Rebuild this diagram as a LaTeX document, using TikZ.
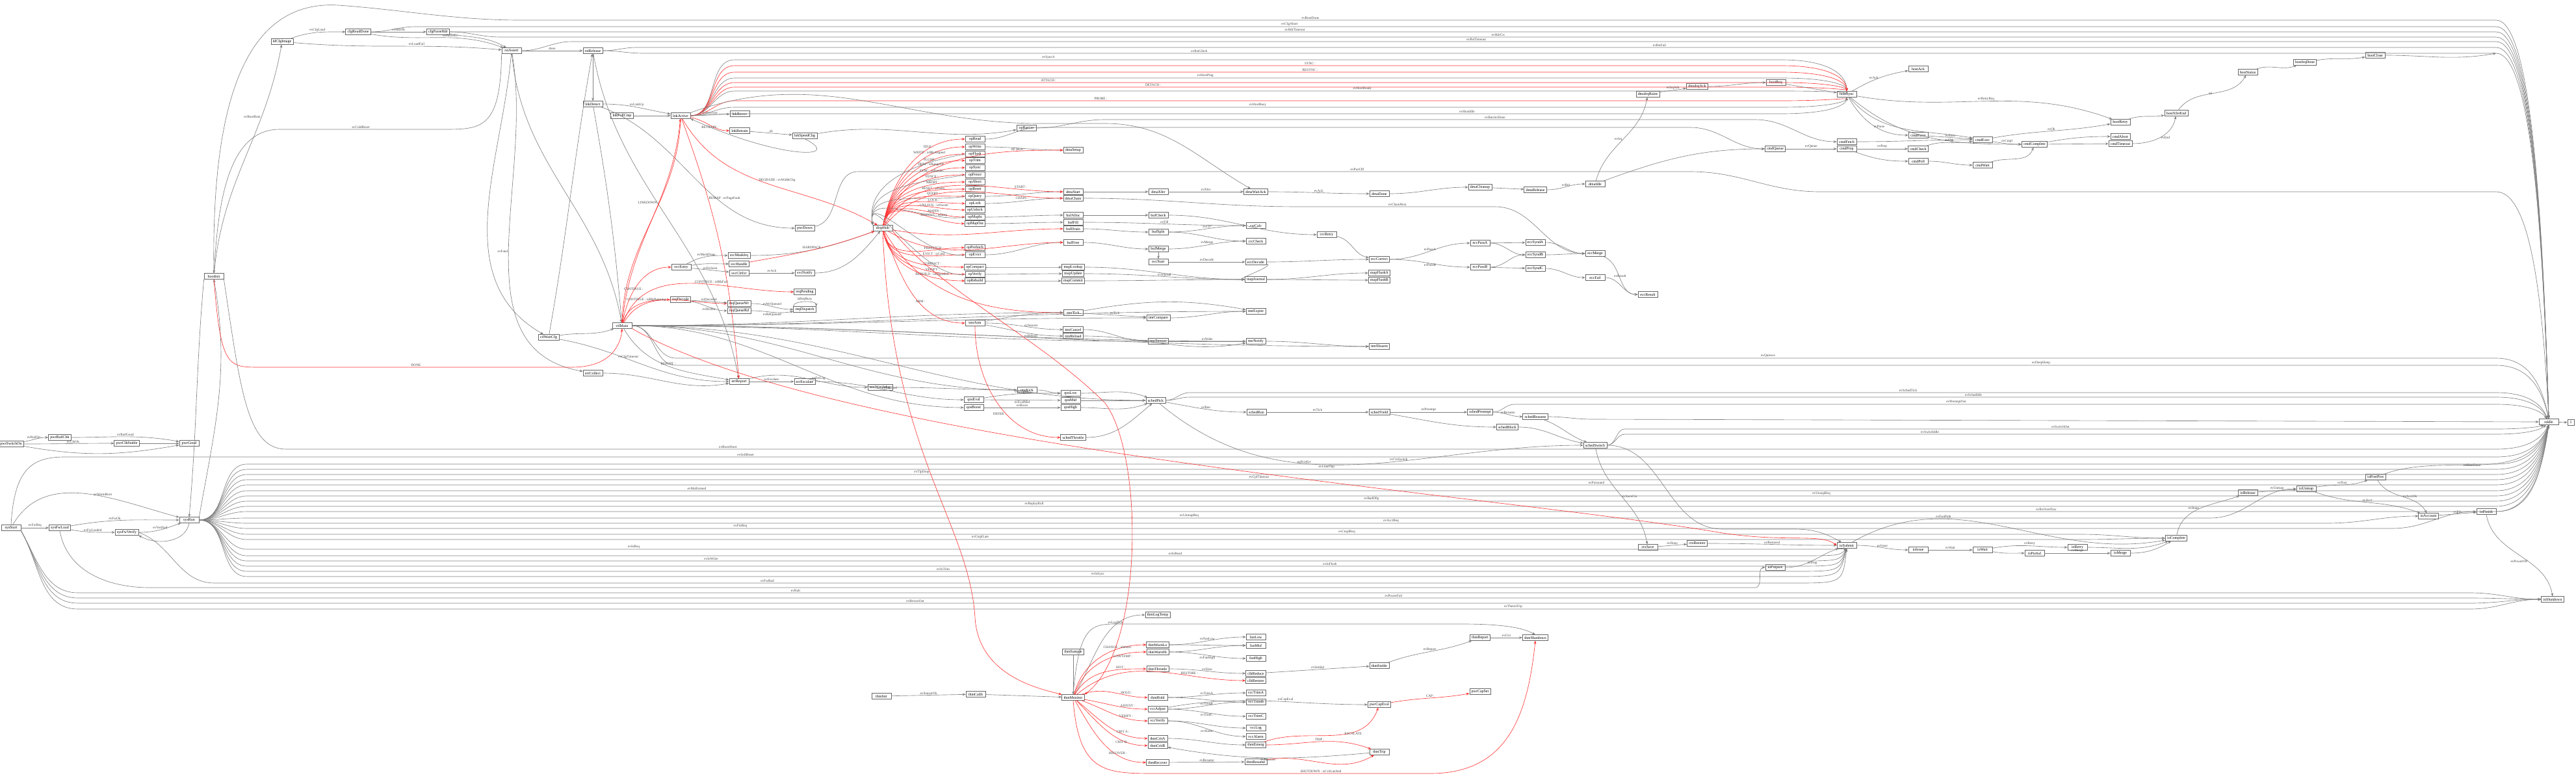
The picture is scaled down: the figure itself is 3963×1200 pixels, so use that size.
\documentclass[tikz,border=0pt]{standalone}
\usepackage{fontspec}
\setmainfont{Liberation Serif}
\usetikzlibrary{arrows.meta}
\usetikzlibrary{positioning}

\tikzset{
  st/.style={draw=black!60, line width=0.2pt, font=\fontsize{1.7}{2}\selectfont,
    inner xsep=0.8pt, inner ysep=0.3pt, minimum height=0.085cm, minimum width=0.3cm},
  tr/.style={-{Stealth[length=1.4pt,width=1.1pt]}, line width=0.18pt, draw=black!50},
  rt/.style={tr, draw=red!80},
  lbl/.style={font=\fontsize{1.5}{1.8}\selectfont, inner sep=0.3pt, text=black!75},
}

\begin{document}
\begin{tikzpicture}[x=0.01cm, y=-0.01cm]
\useasboundingbox (0,0) rectangle (3963,1200);

% end states
\node[st] (tt) at (3921,649) {stIdle};
\node[st, minimum width=0.1cm] (te) at (3955,650) {1};
\draw[tr] (tt) -- (te);

% power-up chain
\node[st] (a0) at (17,683) {pwrSwitchOn};
\node[st] (a1) at (92,673) {pwrRailChk};
\node[st] (a2) at (195,682) {pwrClkStable};
\node[st] (a3) at (291,682) {pwrGood};
\node[st] (b0) at (17,812) {sysStart};
\node[st] (b1) at (92,812) {sysFwLoad};
\node[st] (b2) at (195,819) {sysFwVerify};
\node[st] (h4) at (291,800) {sysRun};

% boot / link
\node[st] (n22) at (329,425) {bootInit};
\node[st] (t3) at (434,64) {ldCfgImage};
\node[st] (t1) at (551,49) {cfgReadDone};
\node[st] (t2) at (674,49) {cfgParseHdr};
\node[st] (h1) at (787,78) {rstAssert};
\node[st] (t4) at (912,78) {rstRelease};
\node[st] (t5) at (912,160) {lnkDetect};
\node[st] (n6) at (957,178) {lnkPollCmp};
\node[st] (h2) at (1047,178) {lnkActive};
\node[st] (n7) at (1138,175) {lnkRecov};
\node[st] (n8) at (1138,201) {lnkRetrain};
\node[st] (n9) at (1238,209) {lnkSpeedChg};
\node[st] (n10) at (1238,351) {pwrDown};
\node[st] (n11) at (1137,393) {svcMaskIrq};
\node[st] (n12) at (1137,406) {svcHandle};
\node[st] (n13) at (1048,411) {svcEntry};
\node[st] (n14) at (1137,420) {svcClrErr};
\node[st] (n15) at (1238,420) {svcNotify};
\node[st] (n16) at (1047,461) {reqDecode};
\node[st] (n17) at (1238,449) {reqPending};
\node[st] (n18) at (1137,467) {reqQueueWr};
\node[st] (n19) at (1137,478) {reqQueueRd};
\node[st] (n20) at (1238,476) {reqDispatch};
\node[st] (h3) at (957,501) {ctlMain};
\node[st] (n21) at (844,519) {ctlWaitCfg};
\node[st] (n23) at (912,574) {errCollect};
\node[st] (n24) at (1137,587) {errReport};
\node[st] (n25) at (1238,587) {errEscalate};

% dispatch fan
\node[st] (h5) at (1358,351) {dispHub};
\foreach \y/\lb [count=\i] in {214/opRead,226/opWrite,237/opFlush,247/opTrim,258/opSync,
  269/opFence,280/opAbort,291/opReset,302/opQuery,313/opLock,323/opUnlock,334/opMapIn,
  344/opMapOut,381/opPrefetch,392/opEvict,411/opCompact,422/opVerify,432/opRebuild}
  \node[st] (f\i) at (1500,\y) {\lb};

\node[st] (g0) at (1579,197) {opBarrier};
\node[st] (g1) at (1651,231) {dmaSetup};
\node[st] (g2) at (1651,295) {dmaStart};
\node[st] (g3) at (1651,305) {dmaChain};
\node[st] (g4) at (1782,295) {dmaXfer};
\node[st] (g5) at (1932,295) {dmaWaitAck};
\node[st] (g6) at (2122,298) {dmaDone};
\node[st] (g7) at (2277,288) {dmaCleanup};
\node[st] (g8) at (2362,292) {dmaRelease};
\node[st] (g9) at (2454,283) {dmaIdle};
\node[st] (g10) at (2535,145) {dmaIrqRaise};
\node[st] (g11) at (2611,133) {dmaIrqAck};
\node[st] (g12) at (1651,331) {bufAlloc};
\node[st] (g13) at (1651,342) {bufFill};
\node[st] (g14) at (1651,352) {bufDrain};
\node[st] (g15) at (1782,331) {bufCheck};
\node[st] (g16) at (1782,357) {bufSplit};
\node[st] (g17) at (1782,383) {bufMerge};
\node[st] (g18) at (1651,373) {bufFree};
\node[st] (g19) at (1932,347) {crcCalc};
\node[st] (g20) at (1932,371) {crcCheck};
\node[st] (g21) at (2041,361) {crcRetry};
\node[st] (g22) at (1782,403) {eccStart};
\node[st] (g23) at (1932,403) {eccDecode};
\node[st] (g24) at (2122,399) {eccCorrect};
\node[st] (g25) at (2277,374) {eccPassA};
\node[st] (g26) at (2277,411) {eccPassB};
\node[st] (g27) at (2362,373) {eccSyndA};
\node[st] (g28) at (2362,392) {eccSyndB};
\node[st] (g29) at (2362,413) {eccSyndC};
\node[st] (g30) at (2454,390) {eccMerge};
\node[st] (g31) at (2454,427) {eccFail};
\node[st] (g32) at (2535,453) {eccResult};
\node[st] (g33) at (1651,411) {mapLookup};
\node[st] (g34) at (1651,421) {mapUpdate};
\node[st] (g35) at (1651,432) {mapCommit};
\node[st] (g36) at (1932,430) {mapJournal};
\node[st] (g37) at (2122,420) {mapFlushA};
\node[st] (g38) at (2122,431) {mapFlushB};
\node[st] (k0) at (1500,497) {tmrArm};
\node[st] (k1) at (1651,481) {tmrTick};
\node[st] (k2) at (1782,489) {tmrCompare};
\node[st] (k3) at (1932,479) {tmrExpire};
\node[st] (k4) at (1651,507) {tmrCancel};
\node[st] (k5) at (1651,517) {tmrReload};
\node[st] (k6) at (1782,525) {tmrSnooze};
\node[st] (k7) at (1932,525) {tmrNotify};
\node[st] (k8) at (2122,533) {tmrDisarm};
\node[st] (k9) at (1354,596) {tmrWatchdog};
\node[st] (k10) at (1580,600) {tmrKick};

% host sync
\node[st] (h6) at (2841,145) {hostSync};
\node[st] (m1) at (2951,106) {hostAck};
\node[st] (m2) at (2732,127) {hostReq};
\node[st] (m3) at (3262,188) {hostRetry};
\node[st] (m4) at (3348,174) {hostXferEnd};
\node[st] (m5) at (3458,111) {hostStatus};
\node[st] (m6) at (3546,96) {hostIrqDone};
\node[st] (m7) at (3654,85) {hostClose};
\node[st] (m8) at (2951,208) {cmdParse};
\node[st] (m9) at (3050,215) {cmdExec};
\node[st] (m10) at (3130,222) {cmdComplete};
\node[st] (m11) at (3262,210) {cmdAbort};
\node[st] (m12) at (3262,221) {cmdTimeout};
\node[st] (m13) at (2841,218) {cmdFetch};
\node[st] (m14) at (2841,229) {cmdPrep};
\node[st] (m15) at (2731,229) {cmdQueue};
\node[st] (m16) at (2951,229) {cmdCheck};
\node[st] (m17) at (2951,248) {cmdPoll};
\node[st] (m18) at (3050,254) {cmdWait};

% scheduler
\node[st] (p1) at (1498,615) {qosEval};
\node[st] (p2) at (1647,605) {qosLow};
\node[st] (p3) at (1647,616) {qosMid};
\node[st] (p4) at (1647,627) {qosHigh};
\node[st] (p5) at (1498,627) {qosBoost};
\node[st] (h7) at (1778,616) {schedPick};
\node[st] (p6) at (1933,634) {schedRun};
\node[st] (p7) at (2122,634) {schedYield};
\node[st] (p8) at (2277,634) {schedPreempt};
\node[st] (p9) at (2362,641) {schedResume};
\node[st] (p10) at (2319,657) {schedBlock};
\node[st] (p11) at (2454,685) {schedSwitch};
\node[st] (p12) at (1651,673) {schedThrottle};
\node[st] (p13) at (2535,842) {ctxSave};
\node[st] (p14) at (2611,836) {ctxRestore};

% io path
\node[st] (h9) at (2841,839) {ioSubmit};
\node[st] (q1) at (2731,873) {ioPrepare};
\node[st] (q2) at (2951,846) {ioIssue};
\node[st] (q3) at (3050,846) {ioWait};
\node[st] (q4) at (3130,851) {ioPartial};
\node[st] (q5) at (3196,842) {ioRetry};
\node[st] (q6) at (3262,851) {ioMerge};
\node[st] (q7) at (3348,828) {ioComplete};
\node[st] (q8) at (3655,734) {ioPostProc};
\node[st] (q9) at (3548,752) {ioUnmap};
\node[st] (q10) at (3458,758) {ioRelease};
\node[st] (q11) at (3736,794) {ioAccount};
\node[st] (q12) at (3825,787) {ioFinish};
\node[st] (nz) at (3927,922) {ioShutdown};

% thermal
\node[st] (h8) at (1651,1073) {thmMonitor};
\node[st] (r0) at (1356,1071) {thmInit};
\node[st] (r1) at (1501,1068) {thmCalib};
\node[st] (r2) at (1781,946) {thmLogTemp};
\node[st] (r3) at (1651,1003) {thmSample};
\node[st] (r4) at (1781,992) {thmWarnLo};
\node[st] (r5) at (1781,1003) {thmWarnHi};
\node[st] (r6) at (1932,980) {fanLow};
\node[st] (r7) at (1932,993) {fanMid};
\node[st] (r8) at (1932,1013) {fanHigh};
\node[st] (r9) at (1781,1029) {thmThrottle};
\node[st] (r10) at (1932,1036) {clkReduce};
\node[st] (r11) at (1932,1047) {clkRestore};
\node[st] (r12) at (2122,1024) {thmStable};
\node[st] (r13) at (2277,981) {thmReport};
\node[st] (r14) at (2362,981) {thmShutdown};
\node[st] (r15) at (1781,1073) {thmHold};
\node[st] (r16) at (1932,1066) {vccTrimA};
\node[st] (r17) at (1781,1091) {vccAdjust};
\node[st] (r18) at (1932,1080) {vccTrimB};
\node[st] (r19) at (1932,1102) {vccTrimC};
\node[st] (r20) at (1781,1109) {vccVerify};
\node[st] (r21) at (1932,1120) {vccLog};
\node[st] (r22) at (1932,1133) {vccAlarm};
\node[st] (r23) at (2122,1084) {pwrCapEval};
\node[st] (r24) at (2277,1064) {pwrCapSet};
\node[st] (r25) at (1781,1136) {thmCritA};
\node[st] (r26) at (1781,1147) {thmCritB};
\node[st] (r27) at (1932,1146) {thmEmerg};
\node[st] (r28) at (2122,1157) {thmTrip};
\node[st] (r29) at (1781,1173) {thmRecover};
\node[st] (r30) at (1932,1172) {thmResume};

%% power-up edges
\draw[tr] (a0) to[out=10,in=180] node[lbl,above,pos=0.4]{evRailOn} (a1);
\draw[tr] (a0) to[out=0,in=180] node[lbl,above,pos=0.55]{evClkOk} (a2);
\draw[tr] (a1) to[out=0,in=170] node[lbl,above,pos=0.5]{evRailGood} (a3);
\draw[tr] (a0) to[out=-10,in=190] (a3);
\draw[tr] (a2) -- (a3);
\draw[tr] (b0) -- node[lbl,above]{evFwReq} (b1);
\draw[tr] (b1) to[out=-10,in=180] node[lbl,above]{evFwLoaded} (b2);
\draw[tr] (b1) to[out=10,in=180] node[lbl,above,pos=0.4]{evFwOk} (h4);
\draw[tr] (b0) to[out=60,in=165] node[lbl,above,pos=0.6]{evWarmBoot} (h4);
\draw[tr] (b2) to[out=0,in=200] node[lbl,above]{evVerified} (h4);
\draw[tr] (h4.south) to[out=-100,in=-30] (b2.south east);
\draw[tr] (n22.south west) to[out=-95,in=85] (h4.north);
\draw[tr] (h4.north east) to[out=80,in=-80] (n22.south);

%% boot edges
\draw[tr] (t3) to[out=20,in=180] node[lbl,above]{evCfgLoad} (t1);
\draw[tr] (t1) -- node[lbl,above]{evHdrOk} (t2);
\draw[tr] (t1) to[out=-10,in=160] node[lbl,above,pos=0.6]{evParseErr} (h1);
\draw[tr] (t2) to[out=-10,in=150] (h1);
\draw[tr] (t3) to[out=-5,in=175] node[lbl,above,pos=0.6]{evLoadFail} (h1);
\draw[tr] (h1) -- node[lbl,above]{done} (t4);
\draw[tr] (n22) to[out=85,in=-100] node[lbl,left,pos=0.7]{evBootRom} (t3);
\draw[tr] (h1.south west) .. controls (770,200) and (740,199) .. (680,199) -- node[lbl,above]{evColdReset} (430,199) .. controls (345,199) and (335,330) .. (n22.north);
\draw[tr] (n22.north) .. controls (325,150) and (380,0) .. (520,8) .. controls (620,15) and (700,31) .. (800,31) -- node[lbl,above,pos=0.4]{evBootDone} (3840,31) .. controls (3895,31) and (3912,340) .. (tt.north);
\draw[tr] (h1) to[out=-85,in=100] (h3);
\draw[tr] (h1) to[out=-80,in=170] node[lbl,left,pos=0.5]{evFatal} (n23);
\draw[tr] (h1) to[out=-95,in=150] (n21);
\draw[tr] (n21) to[out=80,in=-100] (t4);
\draw[tr] (t4) to[out=-80,in=100] (n24);
\draw[tr] (t4) -- (t5);
\draw[tr] (t5) to[out=0,in=170] node[lbl,above]{evLinkUp} (h2);
\draw[tr] (n6) -- (h2);
\draw[tr] (t5) to[out=-80,in=95] (h3);
\draw[tr] (t5) to[out=-20,in=180] (n10);

%% link edges
\draw[tr] (h2) -- node[lbl,above]{evRecover} (n7);
\draw[rt] (h2) to[out=-10,in=180] node[lbl,below]{RETRAIN :} (n8);
\draw[tr] (n8) -- node[lbl,above]{ok} (n9);
\draw[tr] (n9) to[out=10,in=190] (g0);
\draw[tr] (n9.south) .. controls (1300,245) and (1200,245) .. (h2.south east);
\draw[rt] (h2) to[out=-60,in=150] node[lbl,right,pos=0.45]{DEGRADE : evWidthChg} (h5);
\draw[rt] (h2) to[out=-70,in=95] node[lbl,right,pos=0.3]{REMAP : evPageFault} (n24);
\draw[rt] (h3) to[out=85,in=-95] (h2);
\draw[rt] (h2.south) to[out=-92,in=88] node[lbl,left,pos=0.4]{LINKDOWN :} (h3.north);
\foreach \y/\c/\lb/\ps in {92/tr/evSyncA/0.3, 101/rt/SYNC :/0.55, 111/rt/RESYNC :/0.55,
  120/tr/evHostPing/0.45, 127/rt/ATTACH :/0.3, 134/rt/DETACH :/0.4, 140/tr/evHostReady/0.6,
  155/rt/PROBE :/0.35, 165/tr/evHostBusy/0.5, 175/tr/evHostIdle/0.7}
  \draw[\c] (h2.east) to[out=0,in=180] (1130,\y) -- node[lbl,above,pos=\ps]{\lb} (2740,\y) .. controls (2820,\y) and (2841,{(\y+145)/2}) .. (h6);

%% control edges
\draw[rt] (h3) to[out=80,in=180] node[lbl,above,pos=0.4]{CONTINUE :} (n13);
\draw[rt] (h3) to[out=70,in=180] node[lbl,above,pos=0.6]{CONTINUE : isBlkFail} (n17);
\draw[rt] (h3) to[out=60,in=180] (n18);
\draw[rt] (h3) to[out=75,in=180] node[lbl,above,pos=0.6]{CONTINUE : isBlkRunning} (n16);
\draw[tr] (n13) to[out=30,in=180] node[lbl,above]{evMaskDone} (n11);
\draw[tr] (n13) to[out=10,in=180] (n12);
\draw[tr] (n13) -- node[lbl,above]{evErrSeen} (n14);
\draw[tr] (n14) -- node[lbl,above]{evAck} (n15);
\draw[tr] (n11) to[out=0,in=200] (h5);
\draw[rt] (n12) to[out=10,in=200] node[lbl,above]{HARDPACK :} (h5);
\draw[tr] (n15) to[out=0,in=230] (h5);
\draw[tr] (n16) -- node[lbl,above]{evDecoded} (n18);
\draw[tr] (n16) to[out=-10,in=180] node[lbl,below]{evDecErr} (n19);
\draw[tr] (n18) to[out=0,in=180] node[lbl,above]{evWrQueued} (n20);
\draw[tr] (n19) to[out=0,in=190] node[lbl,below]{evRdQueued} (n20);
\draw[tr] (n20.north west) .. controls (1220,462) and (1256,462) .. node[lbl,above]{isReqBusy} (n20.north east);
\draw[tr] (n21) to[out=10,in=200] (h3);
\draw[tr] (n21) to[out=-10,in=180] node[lbl,above,pos=0.4]{evCfgTimeout} (n24);
\draw[tr] (h3) to[out=-60,in=170] node[lbl,above]{REPORT :} (n24);
\draw[rt] (n22.south) .. controls (340,565) and (350,565) .. (400,565) -- node[lbl,above]{DONE} (880,565) .. controls (940,565) and (955,530) .. (h3.south);
\draw[tr] (n23) to[out=0,in=190] (n24);
\draw[tr] (n24) -- node[lbl,above]{evEscalate} (n25);
\draw[tr] (n24) to[out=15,in=180] node[lbl,above,pos=0.6]{evErrLog} (k9);
\draw[tr] (n25) to[out=0,in=180] node[lbl,above]{evQosEval} (p1);
\foreach \d in {k1,k2,k3,k6,k7,k8,k10,p5,h7}
  \draw[tr] (h3.east) to[out=0,in=180] (\d.west);
\foreach \y/\lb/\ps in {551/evQuiesce/0.6, 562/evDeepSleep/0.75}
  \draw[tr] (h3.east) to[out=0,in=180] (1040,\y) -- node[lbl,above,pos=\ps]{\lb} (3840,\y) .. controls (3895,\y) and (3912,{(\y+649)/2}) .. (tt.north);

%% dispatch edges
\foreach \i/\lb in {1/IDLE :,2/WRITE : isBlkAligned,3/FLUSH :,4/TRIM : isRangeOk,5/SYNC : isBarrier,
  6/FENCE :,7/ABORT :,8/RESET : isHard,9/QUERY :,10/LOCK :,11/UNLOCK : isOwner,12/MAPIN :,13/MAPOUT : isDirty}
  \draw[rt] (h5) to[out=80,in=180] node[lbl,above,pos=0.7]{\lb} (f\i.west);
\foreach \i/\lb in {14/PREFETCH :,15/EVICT : isCold,16/COMPACT :,17/VERIFY :,18/REBUILD : isDegraded}
  \draw[rt] (h5) to[out=-80,in=180] node[lbl,above,pos=0.7]{\lb} (f\i.west);
\foreach \i in {3,6,9,12,15,17}
  \draw[tr] (f\i.west) to[out=190,in=100] (h5.north west);
\draw[tr] (f2) to[out=0,in=180] (g1);
\draw[tr] (f9) to[out=0,in=180] (g2);
\draw[tr] (f10) to[out=0,in=180] (g3);
\draw[tr] (f12) to[out=0,in=180] (g12);
\draw[tr] (f13) to[out=0,in=180] (g13);
\draw[tr] (f15) to[out=0,in=180] (g18);
\draw[tr] (f16) to[out=0,in=180] (g33);
\draw[tr] (f17) to[out=0,in=180] (g34);
\draw[tr] (f18) to[out=0,in=180] (g35);
\draw[rt] (h5) to[out=70,in=180] node[lbl,above,pos=0.8]{AF BLK :} (g1);
\draw[rt] (h5) to[out=60,in=180] node[lbl,above,pos=0.8]{START :} (g2);
\draw[rt] (h5) to[out=50,in=180] node[lbl,below,pos=0.8]{CHAIN :} (g3);
\draw[rt] (h5) to[out=-10,in=180] (g14);
\draw[rt] (h5) to[out=-30,in=180] (g18);
\draw[rt] (h5) to[out=-70,in=180] node[lbl,above,pos=0.6]{ARM :} (k0);
\draw[rt] (h5) to[out=-60,in=180] (k1);
\draw[tr] (n10) to[out=10,in=180] (1320,264) -- node[lbl,above,pos=0.6]{evPwrOff} (2600,264) to[out=0,in=180] (2800,295) -- (3840,295) .. controls (3895,295) and (3912,472) .. (tt.north);

%% dma / buffer edges
\draw[tr] (g2) -- (g4);
\draw[tr] (g4) -- node[lbl,above]{evXfer} (g5);
\draw[tr] (g5) to[out=0,in=180] node[lbl,above]{evAck} (g6);
\draw[tr] (g6) to[out=0,in=180] (g7);
\draw[tr] (g7) -- (g8);
\draw[tr] (g8) to[out=0,in=180] node[lbl,above]{evRel} (g9);
\draw[tr] (g9) to[out=75,in=-100] node[lbl,left,pos=0.5]{evIrq} (g10);
\draw[tr] (g10) to[out=10,in=190] node[lbl,above]{evIrqAck} (g11);
\draw[tr] (h2.north east) to[out=20,in=180] (1600,190) -- (1700,190) to[out=0,in=150] (g5);
\draw[tr] (g3) to[out=0,in=180] (2000,318) -- node[lbl,above]{evChainNext} (2300,318) to[out=0,in=180] (g30);
\draw[tr] (g12) -- (g15);
\draw[tr] (g15) to[out=0,in=180] (g21);
\draw[tr] (g13) to[out=0,in=180] node[lbl,above]{evFill} (g19);
\draw[tr] (g14) to[out=0,in=180] (g16);
\draw[tr] (g16) to[out=0,in=180] node[lbl,above]{evCrc} (g19);
\draw[tr] (g16) to[out=0,in=180] (g20);
\draw[tr] (g18) to[out=0,in=180] (g17);
\draw[tr] (g17) to[out=0,in=180] node[lbl,above]{evMerge} (g20);
\draw[tr] (g17) -- (g22);
\draw[tr] (g22) -- node[lbl,above]{evDecode} (g23);
\draw[tr] (g23) to[out=0,in=180] (g24);
\draw[tr] (g21) to[out=-10,in=170] (g24);
\draw[tr] (g24) to[out=0,in=180] node[lbl,above]{evPassA} (g25);
\draw[tr] (g24) to[out=0,in=180] node[lbl,below]{evPassB} (g26);
\draw[tr] (g25) -- (g27);
\draw[tr] (g25) to[out=0,in=180] (g28);
\draw[tr] (g26) to[out=0,in=180] (g28);
\draw[tr] (g26) -- (g29);
\draw[tr] (g27) to[out=0,in=180] (g30);
\draw[tr] (g28) to[out=0,in=180] (g30);
\draw[tr] (g29) to[out=0,in=180] (g31);
\draw[tr] (g30) to[out=-20,in=180] node[lbl,above]{evResult} (g32);
\draw[tr] (g31) to[out=0,in=180] (g32);
\draw[tr] (g33) to[out=0,in=180] (g36);
\draw[tr] (g34) to[out=0,in=180] node[lbl,above]{evJournal} (g36);
\draw[tr] (g35) to[out=0,in=180] (g36);
\draw[tr] (g36) to[out=0,in=180] (g37);
\draw[tr] (g36) to[out=0,in=180] (g38);
\draw[tr] (g23) to[out=-10,in=180] (g36);
\draw[tr] (g9) to[out=20,in=180] (m15);
\draw[tr] (g11) to[out=0,in=180] (m2);
\draw[tr] (g0) to[out=0,in=180] (1700,184) -- node[lbl,above,pos=0.6]{evBarrierDone} (2700,184) to[out=0,in=180] (m13.west);
\draw[tr] (f1) to[out=0,in=180] (1600,196) -- (2600,196) to[out=0,in=180] (m15.west);

%% timer edges
\draw[tr] (k0) to[out=10,in=180] (k1);
\draw[tr] (k0) to[out=0,in=180] node[lbl,above,pos=0.6]{evSnooze} (k4);
\draw[tr] (k0) to[out=-10,in=180] node[lbl,below,pos=0.6]{evReload} (k5);
\draw[tr] (k1) -- node[lbl,above]{evTick} (k2);
\draw[tr] (k2) to[out=0,in=180] (k3);
\draw[tr] (k1) to[out=10,in=170] (k3);
\draw[tr] (k4) to[out=0,in=180] (k6);
\draw[tr] (k6) -- node[lbl,above]{evWake} (k7);
\draw[tr] (k5) to[out=0,in=190] (k7);
\draw[tr] (k7) to[out=0,in=180] (k8);
\draw[tr] (k9) to[out=0,in=180] (k10);
\draw[tr] (k10) to[out=0,in=180] (p2);

%% host edges
\draw[tr] (m2) -- (h6);
\draw[tr] (h6) to[out=30,in=190] node[lbl,above,pos=0.4]{evAck} (m1);
\draw[tr] (h6) to[out=-10,in=160] node[lbl,above,pos=0.5]{evRetryReq} (m3);
\draw[tr] (h6) to[out=-60,in=180] node[lbl,above,pos=0.6]{evParse} (m8);
\draw[tr] (h6) to[out=-50,in=170] (m9);
\draw[tr] (h6) to[out=-40,in=180] (m10);
\draw[tr] (m8) -- node[lbl,above]{evExec} (m9);
\draw[tr] (m9) to[out=10,in=190] node[lbl,above]{evOk} (m3);
\draw[tr] (m9) to[out=-10,in=180] node[lbl,above]{evCmpl} (m10);
\draw[tr] (m10) to[out=10,in=180] (m11);
\draw[tr] (m10) -- (m12);
\draw[tr] (m3) to[out=20,in=190] (m4);
\draw[tr] (m12) to[out=0,in=-100] node[lbl,right]{evEnd} (m4);
\draw[tr] (m4) to[out=55,in=-120] node[lbl,left,pos=0.5]{ok} (m5);
\draw[tr] (m5) to[out=20,in=200] (m6);
\draw[tr] (m6) to[out=10,in=190] (m7);
\draw[tr] (m15) -- node[lbl,above]{evQueue} (m14);
\draw[tr] (m14) -- node[lbl,above]{evPrep} (m16);
\draw[tr] (m13) to[out=0,in=180] (m9);
\draw[tr] (m14) to[out=-20,in=180] (m17);
\draw[tr] (m17) to[out=0,in=180] (m18);
\draw[tr] (m18) to[out=20,in=-110] (m10);
\draw[tr] (m16) to[out=20,in=190] node[lbl,above]{evChk} (m9);
\foreach \s/\x/\y/\lb/\ps in {t1/640/41/evCfgAbort/0.42, t2/760/49/evHdrTimeout/0.4,
  t2/770/57/evHdrCrc/0.5, h1/880/64/evRstTimeout/0.47, t4/980/73/evRstFail/0.55, t4/990/82/evRstGlitch/0.3}
  \draw[tr] (\s.east) to[out=0,in=180] (\x,\y) -- node[lbl,above,pos=\ps]{\lb} (3840,\y) .. controls (3895,\y) and (3912,{(\y+649)/2}) .. (tt.north);
\draw[tr] (m7) to[out=0,in=-170] (3840,82);

%% scheduler edges
\draw[tr] (p1) to[out=10,in=180] node[lbl,above]{evEvalLo} (p2);
\draw[tr] (p1) -- node[lbl,below]{evEvalMid} (p3);
\draw[tr] (p5) -- node[lbl,above]{evBoost} (p4);
\draw[tr] (p2) to[out=0,in=160] (h7);
\draw[tr] (p3) -- (h7);
\draw[tr] (p4) to[out=0,in=200] (h7);
\draw[tr] (h7) to[out=-10,in=180] node[lbl,above]{evRun} (p6);
\draw[tr] (p6) -- node[lbl,above]{evTick} (p7);
\draw[tr] (p7) -- node[lbl,above]{evPreempt} (p8);
\draw[tr] (p8) to[out=0,in=180] node[lbl,above]{evResume} (p9);
\draw[tr] (p7) to[out=-10,in=180] (p10);
\draw[tr] (p9) to[out=-20,in=160] (p11);
\draw[tr] (p10) to[out=0,in=170] (p11);
\draw[tr] (h7) to[out=-40,in=180] node[lbl,above,pos=0.6]{evCtxSwitch} (p11);
\draw[tr] (p11) to[out=-80,in=100] node[lbl,right]{evSaveCtx} (p13);
\draw[tr] (p13) -- node[lbl,above]{evDone} (p14);
\draw[tr] (p12) to[out=0,in=220] (h7);
\draw[rt] (k0.south) to[out=-90,in=180] node[lbl,left,pos=0.6]{DEFER :} (p12);
\draw[tr] (p14) to[out=0,in=180] node[lbl,above]{evRestored} (h9);
\draw[tr] (p11) to[out=0,in=180] (2650,814) -- (2760,814) to[out=0,in=150] (h9);
\foreach \s/\x/\y/\lb/\ps in {h7/1830/604/evSchedTick/0.55, h7/1830/611/evSchedIdle/0.6,
  p8/2330/622/evPreemptOut/0.45, p11/2500/660/evSwitchOut/0.5, p11/2500/668/evSwitchIdle/0.35}
  \draw[tr] (\s.east) to[out=0,in=180] (\x,\y) -- node[lbl,above,pos=\ps]{\lb} (3840,\y) .. controls (3895,\y) and (3912,{(\y+649)/2}) .. (tt);
\draw[tr] (p9) to[out=0,in=180] (2450,645) -- (tt.west);

%% io edges
\draw[tr] (q1) to[out=0,in=200] node[lbl,below]{evPrep} (h9);
\draw[tr] (h9) to[out=0,in=180] node[lbl,above]{evIssue} (q2);
\draw[tr] (q2) -- node[lbl,above]{evWait} (q3);
\draw[tr] (q3) to[out=10,in=180] node[lbl,above]{evRetry} (q5);
\draw[tr] (q3) to[out=-10,in=180] (q4);
\draw[tr] (q4) -- node[lbl,above]{evMerge} (q6);
\draw[tr] (q5) to[out=0,in=200] (q7);
\draw[tr] (q6) to[out=0,in=210] (q7);
\draw[tr] (h9) to[out=30,in=190] node[lbl,above,pos=0.3]{evFastPath} (q7);
\draw[tr] (q7) to[out=80,in=200] node[lbl,left,pos=0.5]{evDone} (q10);
\draw[tr] (q10) -- node[lbl,above]{evUnmap} (q9);
\draw[tr] (q9) to[out=10,in=200] node[lbl,above]{evPost} (q8);
\draw[tr] (q9) to[out=-20,in=160] node[lbl,above]{evAcct} (q11);
\draw[tr] (q8) to[out=-60,in=120] node[lbl,right]{evAcctOk} (q11);
\draw[tr] (q11) -- node[lbl,above]{evFin} (q12);
\draw[tr] (q12) to[out=0,in=-100] (tt.south);
\draw[tr] (q12.south) to[out=-80,in=100] node[lbl,left,pos=0.6]{evPowerOff} (nz.north);
\draw[tr] (q8) to[out=20,in=-110] node[lbl,right,pos=0.4]{evHostDone} (tt.south);

%% long lanes from the left hubs
\draw[tr] (n22.south east) .. controls (370,600) and (380,691) .. (440,691) -- node[lbl,above,pos=0.2]{evBootAbort} (3840,691) .. controls (3895,691) and (3912,670) .. (tt.south);
\draw[tr] (b0.north) .. controls (22,720) and (50,703) .. (100,703) -- node[lbl,above,pos=0.28]{evSoftReset} (3840,703) .. controls (3895,703) and (3912,676) .. (tt.south);
\foreach \y/\lb/\ps in {714/evPcieErr/0.47, 722/evLinkFlap/0.48, 730/evTlpDrop/0.3, 738/evCplTimeout/0.45,
  746/evPoisoned/0.6, 755/evMalformed/0.2, 763/evUnsupReq/0.7, 771/evBadDllp/0.5, 779/evReplayRoll/0.35, 787/evRxOverflow/0.8}
  \draw[tr] (h4.east) to[out=0,in=180] (380,\y) -- node[lbl,above,pos=\ps]{\lb} (3840,\y) .. controls (3895,\y) and (3912,{(\y+649)/2}) .. (tt.south);
\foreach \y/\d/\x/\lb/\ps in {797/q9/3400/evUnmapReq/0.48, 805/q11/3580/evAcctReq/0.55,
  813/q12/3680/evFinReq/0.23, 822/q7/3200/evCmplReq/0.6, 830/q7/3200/evCmplLate/0.4}
  \draw[tr] (h4.east) to[out=0,in=180] (380,\y) -- node[lbl,above,pos=\ps]{\lb} (\x,\y) to[out=0,in=180] (\d.west);
\foreach \y/\lb/\ps in {845/evIoReq/0.25, 855/evIoRead/0.6, 863/evIoWrite/0.3, 871/evIoFlush/0.7, 879/evIoTrim/0.45, 887/evIoSync/0.55}
  \draw[tr] (h4.east) to[out=0,in=180] (380,\y) -- node[lbl,above,pos=\ps]{\lb} (2760,\y) .. controls (2830,\y) .. (h9.south);
\draw[tr] (b2.east) to[out=-20,in=180] (330,897) -- node[lbl,above,pos=0.35]{evFwBad} (2760,897) .. controls (2835,897) .. (h9.south);
\draw[tr] (b1.south) to[out=-80,in=180] (230,904) -- (2700,904) to[out=0,in=180] (q1.west);
\foreach \y/\lb/\ps in {912/evHalt/0.3, 920/evPowerFail/0.55, 928/evBrownOut/0.35, 937/evThermTrip/0.6}
  \draw[tr] (b0.south east) to[out=-60,in=180] (120,\y) -- node[lbl,above,pos=\ps]{\lb} (3800,\y) to[out=0,in=180] (nz.west);

%% thermal edges
\draw[tr] (r0) -- node[lbl,above]{evSensorOk} (r1);
\draw[tr] (r1) -- (h8);
\draw[tr] (r3) -- (h8);
\draw[tr] (h8) to[out=60,in=180] node[lbl,above,pos=0.7]{evLogTick} (r2);
\draw[rt] (h8) to[out=75,in=180] node[lbl,above,pos=0.7]{CHANGE : isWarm} (r4);
\draw[rt] (h8) to[out=70,in=180] node[lbl,below,pos=0.75]{LOWTEMP :} (r5);
\draw[tr] (r4) to[out=0,in=180] node[lbl,above]{evFanLow} (r6);
\draw[tr] (r4) to[out=0,in=180] (r7);
\draw[tr] (r5) to[out=0,in=180] (r7);
\draw[tr] (r5) to[out=0,in=180] node[lbl,below]{evFanHigh} (r8);
\draw[rt] (h8) to[out=60,in=180] node[lbl,above,pos=0.7]{HOT :} (r9);
\draw[tr] (r9) to[out=0,in=180] node[lbl,above]{evSlow} (r10);
\draw[tr] (r10) -- node[lbl,above]{evSettled} (r12);
\draw[tr] (r12) to[out=20,in=200] node[lbl,above]{evReport} (r13);
\draw[tr] (r13) -- node[lbl,above]{evCrit} (r14);
\draw[rt] (h8) to[out=40,in=180] node[lbl,above,pos=0.7]{RESTORE :} (r11);
\draw[rt] (h8) to[out=20,in=180] node[lbl,above,pos=0.7]{HOLD :} (r15);
\draw[tr] (r15) to[out=0,in=180] node[lbl,above]{evTrimA} (r16);
\draw[tr] (r15) to[out=0,in=180] (r18);
\draw[rt] (h8) to[out=-10,in=180] node[lbl,above,pos=0.7]{ADJUST :} (r17);
\draw[tr] (r17) to[out=0,in=180] node[lbl,above]{evTrimB} (r18);
\draw[tr] (r17) to[out=0,in=180] node[lbl,below]{evTrimC} (r19);
\draw[rt] (h8) to[out=-20,in=180] node[lbl,above,pos=0.7]{VERIFY :} (r20);
\draw[tr] (r20) to[out=0,in=180] (r21);
\draw[tr] (r20) to[out=0,in=180] node[lbl,below]{evAlarm} (r22);
\draw[tr] (r17) to[out=10,in=180] node[lbl,above,pos=0.6]{evCapEval} (r23);
\draw[rt] (r23) to[out=10,in=190] node[lbl,above]{CAP :} (r24);
\draw[rt] (r27) to[out=20,in=-110] node[lbl,right,pos=0.6]{ESCALATE} (r23);
\draw[rt] (h8) to[out=-40,in=180] node[lbl,above,pos=0.7]{CRIT A :} (r25);
\draw[rt] (h8) to[out=-45,in=180] node[lbl,below,pos=0.7]{CRIT B :} (r26);
\draw[tr] (r25) to[out=0,in=180] (r27);
\draw[rt] (r27) to[out=0,in=160] node[lbl,above]{TRIP :} (r28);
\draw[tr] (r28) to[out=185,in=-10] node[lbl,below]{evRecover} (r26);
\draw[rt] (h8) to[out=-60,in=180] node[lbl,above,pos=0.7]{RECOVER :} (r29);
\draw[tr] (r29) -- node[lbl,above]{evResume} (r30);
\draw[rt] (r30) to[out=10,in=-150] (r28);
\draw[rt] (h8.south) .. controls (1660,1190) and (1700,1190) .. (1780,1190) -- node[lbl,above,pos=0.6]{SHUTDOWN : isCritLatched} (2200,1190) .. controls (2320,1190) and (2350,1100) .. (r14.south);
\draw[tr] (h8.north) .. controls (1660,960) and (1680,960) .. (1720,960) -- (2250,960) .. controls (2330,960) and (2350,970) .. (r14.north);
\draw[rt] (h5.south) .. controls (1372,700) and (1490,800) .. (1500,950) .. controls (1505,1040) and (1600,1060) .. (h8.north west);
\draw[rt] (h5.south east) .. controls (1450,450) and (1600,520) .. (1700,620) .. controls (1760,700) and (1760,1000) .. (h8.north east);
\draw[rt] (h3.south east) .. controls (1300,690) and (2300,760) .. (2650,820) .. controls (2750,835) and (2800,820) .. (h9.west);
\end{tikzpicture}
\end{document}
